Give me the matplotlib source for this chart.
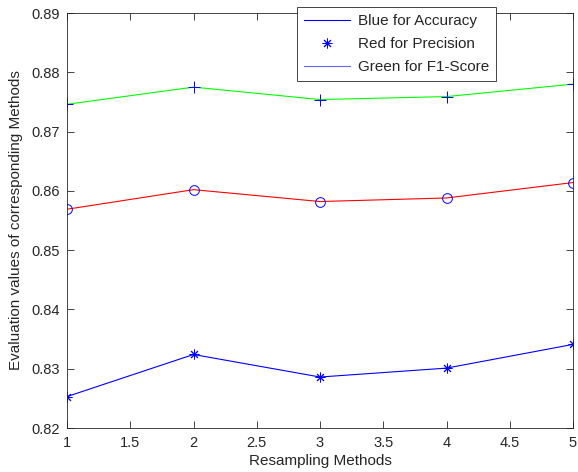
import numpy as np
import matplotlib
matplotlib.use("Agg")
import matplotlib.pyplot as plt
from matplotlib.lines import Line2D

plt.rcParams['font.family'] = ['Liberation Sans', 'DejaVu Sans']

# data
methods = [1, 2, 3, 4, 5]
accuracy = [0.8253, 0.8324, 0.8286, 0.8301, 0.8341]
precision = [0.8569, 0.8602, 0.8582, 0.8588, 0.8614]
f1_score = [0.8746, 0.8775, 0.8754, 0.8759, 0.8780]

# MATLAB-style asterisk (plus and cross together)
star = (8, 2, 0)

fig = plt.figure(figsize=(5.78, 4.72), dpi=100)
ax = fig.add_axes([67 / 578, 1 - 428 / 472, (573 - 67) / 578, (428 - 13) / 472])

ax.plot(methods, accuracy, color='b', lw=0.8)
ax.plot(methods, accuracy, 'b', marker=star, ls='none', ms=7, mew=0.7)
ax.plot(methods, precision, color='r', lw=0.8)
ax.plot(methods, precision, 'bo', ms=7, mfc='none', mew=0.7)
ax.plot(methods, f1_score, color=(0, 1, 0), lw=0.8)
ax.plot(methods, f1_score, 'b+', ms=9, mew=0.7)

ax.set_xlim(1, 5)
ax.set_ylim(0.82, 0.89)
ax.set_xticks(np.arange(1, 5.01, 0.5))
ax.set_xticklabels(['1', '1.5', '2', '2.5', '3', '3.5', '4', '4.5', '5'])
ax.set_yticks(np.arange(0.82, 0.8901, 0.01))
ax.set_yticklabels(['%.2f' % v for v in np.arange(0.82, 0.8901, 0.01)])
ax.tick_params(direction='in', top=True, right=True, labelsize=10.5, length=5, width=0.6,
               colors='#262626')
ax.tick_params(axis='x', pad=6)
ax.tick_params(axis='y', pad=5)
for s in ax.spines.values():
    s.set_linewidth(0.6)
    s.set_color('#262626')

ax.set_xlabel('Resampling Methods', fontsize=11, labelpad=3, color='#262626')
ax.set_ylabel('Evaluation values of corresponding Methods', fontsize=11, labelpad=6,
              color='#262626')

handles = [Line2D([], [], color='b', lw=0.8),
           Line2D([], [], color='b', marker=star, ls='none', ms=7, mew=0.7),
           Line2D([], [], color=(0.4, 0.4, 1), lw=0.8)]
labels = ['Blue for Accuracy', 'Red for Precision', 'Green for F1-Score']
leg = fig.legend(handles, labels, loc='upper left', bbox_to_anchor=(297 / 578, 1 - 7 / 472),
                 fontsize=11, fancybox=False, framealpha=1, edgecolor='#262626',
                 borderpad=0.45, labelspacing=0.6, handlelength=3.0, handletextpad=0.55,
                 borderaxespad=0)
leg.get_frame().set_linewidth(0.6)
for t in leg.get_texts():
    t.set_color('#262626')

fig.savefig('out.png', dpi=100)
